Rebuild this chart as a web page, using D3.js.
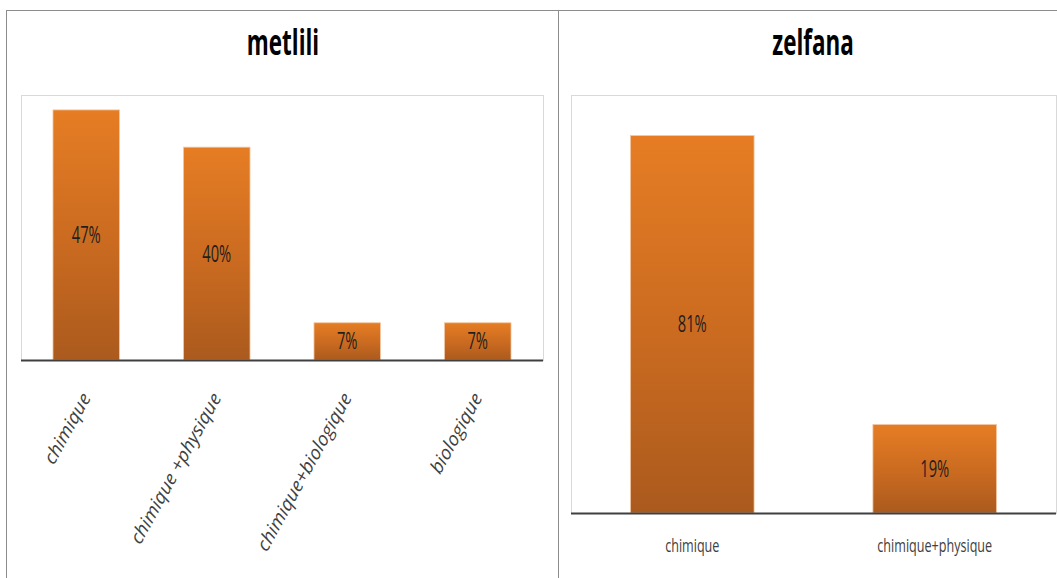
<!DOCTYPE html>
<html>
<head>
<meta charset="utf-8">
<script src="https://cdn.jsdelivr.net/npm/d3@7"></script>
<style>
  body { margin: 0; background: #fff; }
  text { font-family: "Open Sans", sans-serif; }
</style>
</head>
<body>
<svg id="chart"></svg>
<script>
// Data
const metliliCats = ["chimique", "chimique +physique", "chimique+biologique", "biologique"];
const metliliValues = [47, 40, 7, 7];
const zelfanaCats = ["chimique", "chimique+physique"];
const zelfanaValues = [81, 19];

const width = 1057, height = 578;
const svg = d3.select("#chart").attr("width", width).attr("height", height);

// the reference text is narrow (Calibri-like), squeeze it horizontally
const squeeze = 0.64;

// bar gradient
const grad = svg.append("defs").append("linearGradient")
    .attr("id", "barGrad").attr("x1", 0).attr("y1", 0).attr("x2", 0).attr("y2", 1);
grad.append("stop").attr("offset", "0%").attr("stop-color", "#e67d24");
grad.append("stop").attr("offset", "55%").attr("stop-color", "#c96a20");
grad.append("stop").attr("offset", "100%").attr("stop-color", "#ab5a1e");

// outer frame lines
svg.append("line").attr("x1", 6).attr("x2", width).attr("y1", 10.5).attr("y2", 10.5)
   .attr("stroke", "#8c8c8c");
svg.append("line").attr("x1", 6.5).attr("x2", 6.5).attr("y1", 10).attr("y2", height)
   .attr("stroke", "#8c8c8c");
svg.append("line").attr("x1", 558.5).attr("x2", 558.5).attr("y1", 10).attr("y2", height)
   .attr("stroke", "#8c8c8c");

function drawPanel(cfg) {
    const g = svg.append("g");

    // title
    g.append("text")
     .attr("transform", `translate(${cfg.titleX},55) scale(${squeeze},1)`)
     .attr("text-anchor", "middle")
     .attr("font-size", 35).attr("font-weight", "bold")
     .attr("fill", "#000")
     .text(cfg.title);

    // plot area border
    g.append("rect")
     .attr("x", cfg.left + 0.5).attr("y", cfg.top + 0.5)
     .attr("width", cfg.right - cfg.left).attr("height", cfg.bottom - cfg.top)
     .attr("fill", "none").attr("stroke", "#d9d9d9");

    const x = d3.scaleBand()
        .domain(cfg.cats)
        .range([cfg.left, cfg.right])
        .paddingInner(0.49).paddingOuter(0.245);

    const y = d3.scaleLinear()
        .domain([0, cfg.yMax])
        .range([cfg.bottom, cfg.top]);

    const data = cfg.cats.map((c, i) => ({ cat: c, val: cfg.values[i] }));

    g.selectAll("rect.bar").data(data).join("rect")
     .attr("class", "bar")
     .attr("x", d => x(d.cat))
     .attr("y", d => y(d.val))
     .attr("width", x.bandwidth())
     .attr("height", d => y(0) - y(d.val))
     .attr("fill", "url(#barGrad)")
     .attr("stroke", "#f3c9a6").attr("stroke-width", 0.8);

    // value labels
    g.selectAll("text.val").data(data).join("text")
     .attr("class", "val")
     .attr("transform", d =>
        `translate(${x(d.cat) + x.bandwidth() / 2},${(y(d.val) + y(0)) / 2 + 8}) scale(${squeeze},1)`)
     .attr("text-anchor", "middle")
     .attr("font-size", 23)
     .attr("fill", "#1f1f1f")
     .text(d => d.val + "%");

    // x axis
    const axis = g.append("g")
        .attr("transform", `translate(0,${cfg.bottom})`)
        .call(d3.axisBottom(x).tickSize(0).tickPadding(0));
    axis.select(".domain").attr("stroke", "#3f3f3f").attr("stroke-width", 2.2)
        .attr("d", `M${cfg.left},0.5H${cfg.right}`);

    axis.selectAll("text")
        .style("font-family", '"Open Sans", sans-serif')
        .attr("fill", "#404040")
        .attr("dy", 0)
        .attr("y", 0);

    if (cfg.rotate) {
        axis.selectAll("text")
            .attr("font-size", 19.5)
            .attr("font-style", "italic")
            .attr("text-anchor", "end")
            .attr("transform", `translate(5,38) scale(0.92,1) rotate(-59)`);
    } else {
        axis.selectAll("text")
            .attr("font-size", 18)
            .attr("transform", `translate(0,39) scale(0.7,1)`);
    }
}

drawPanel({
    title: "metlili", titleX: 283,
    cats: metliliCats, values: metliliValues, yMax: 49.8,
    left: 21, right: 543, top: 95, bottom: 360, rotate: true
});

drawPanel({
    title: "zelfana", titleX: 813,
    cats: zelfanaCats, values: zelfanaValues, yMax: 89.7,
    left: 571, right: 1056, top: 95, bottom: 513, rotate: false
});
</script>
</body>
</html>
